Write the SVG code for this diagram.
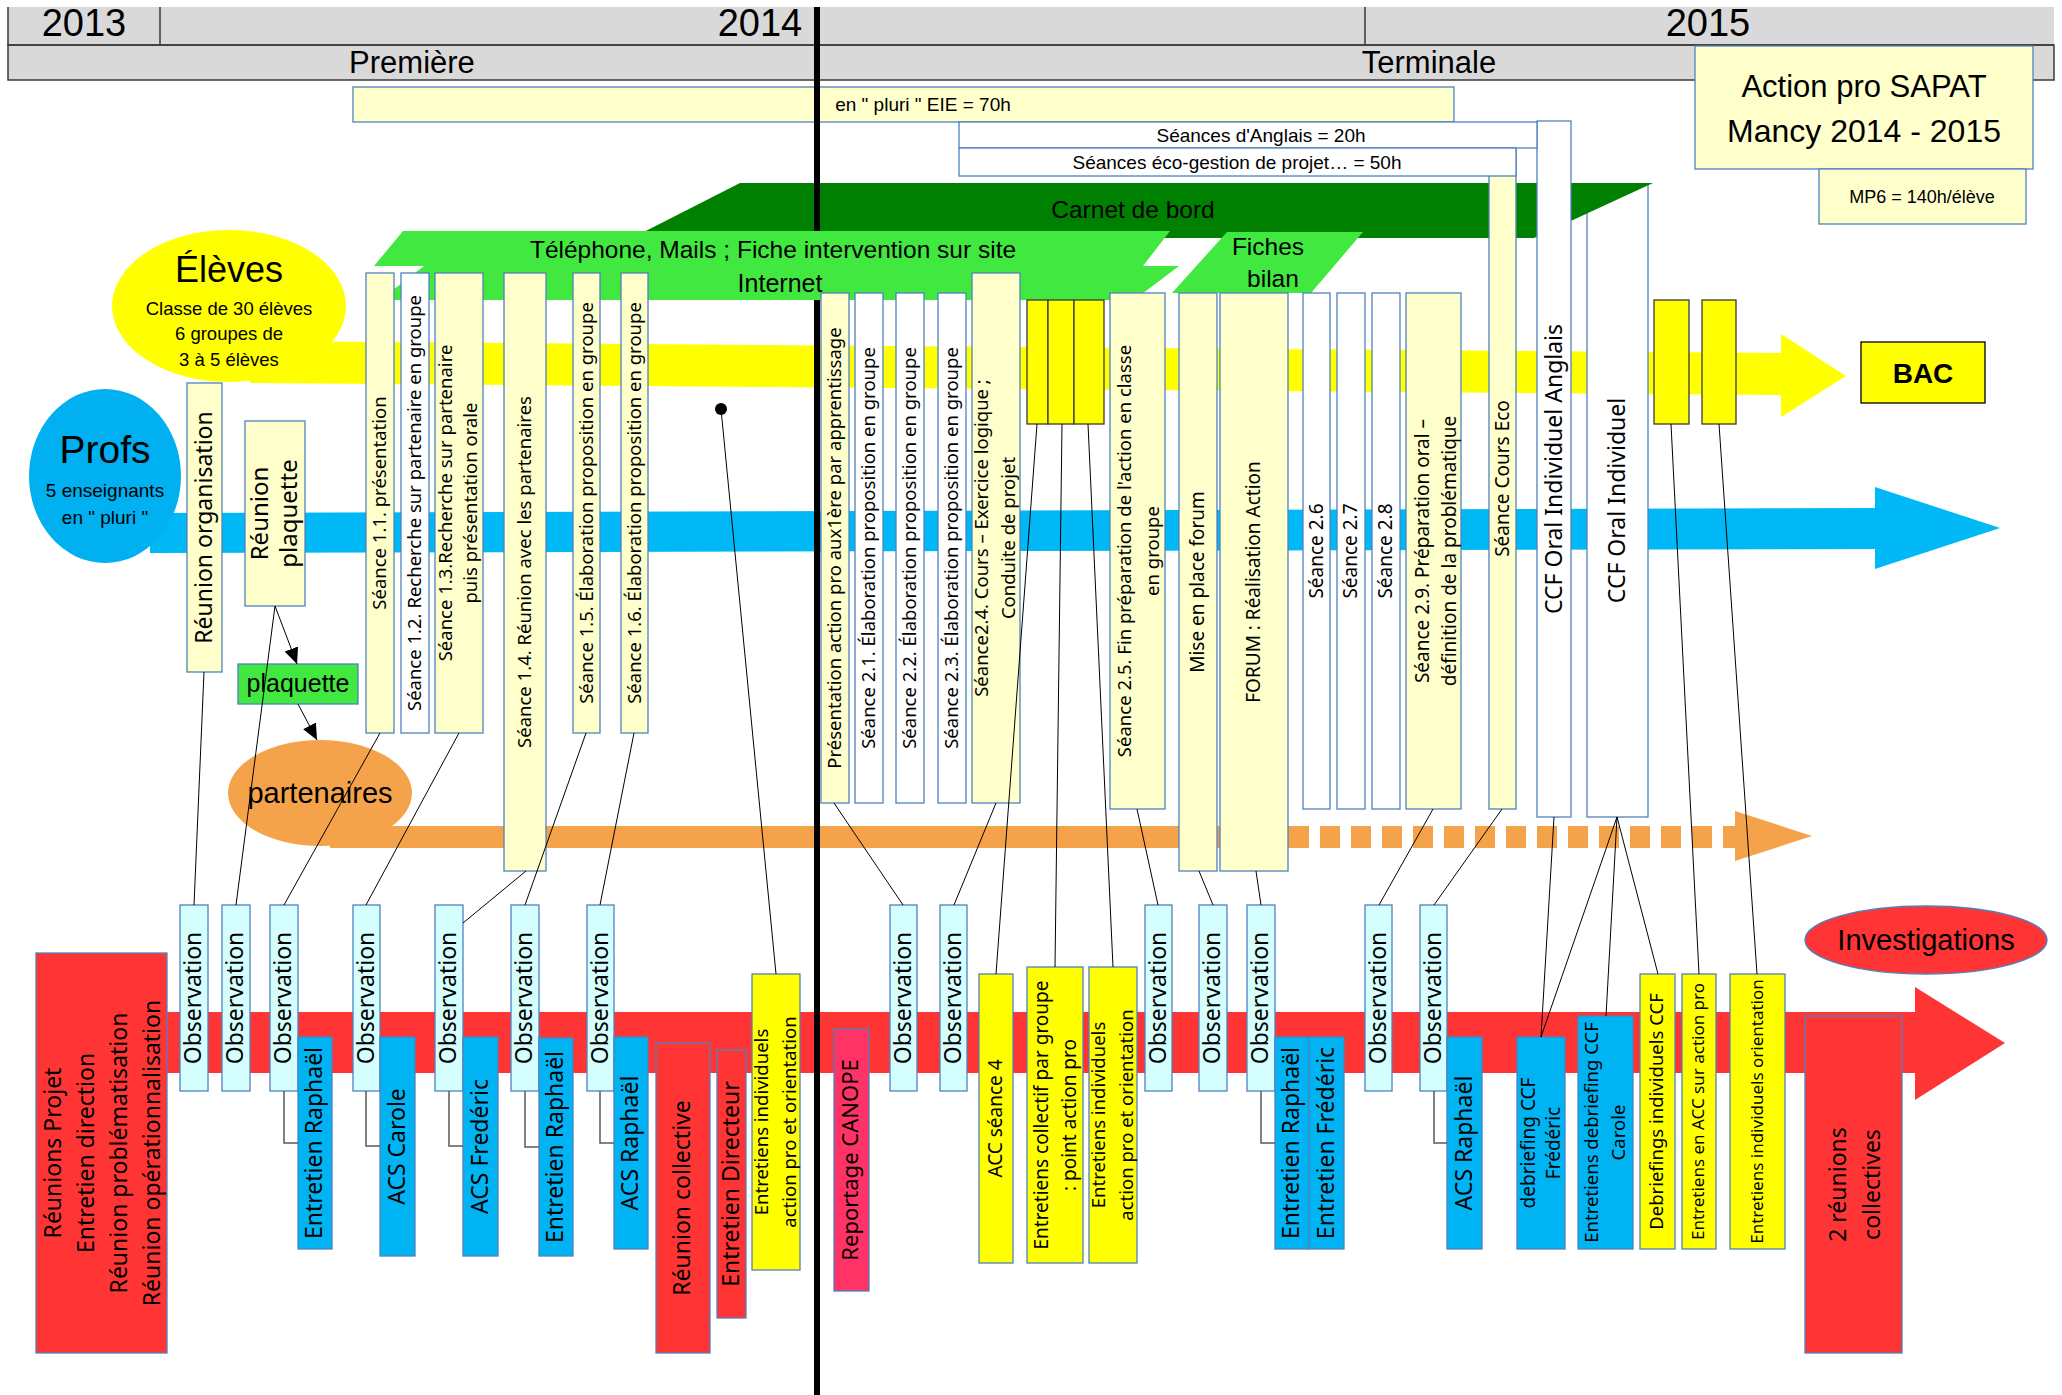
<svg xmlns="http://www.w3.org/2000/svg" width="2062" height="1395" viewBox="0 0 2062 1395">
<defs>
<style>
.ly{fill:#ffffcc;stroke:#4f81bd;stroke-width:1.3}
.wh{fill:#ffffff;stroke:#4f81bd;stroke-width:1.3}
.ob{fill:#d5fefe;stroke:#4f81bd;stroke-width:1.3}
.bl{fill:#00b4f3;stroke:#4f81bd;stroke-width:1.3}
.yl{fill:#ffff00;stroke:#4f81bd;stroke-width:1.3}
.yk{fill:#ffff00;stroke:#3a3a3a;stroke-width:1.3}
.rd{fill:#ff3535;stroke:#4f81bd;stroke-width:1.3}
.gr{fill:#40e840}
text{fill:#000}
.v{font-family:"Noto Sans","DejaVu Sans",sans-serif;text-anchor:middle}
.h{font-family:"Liberation Sans",Arial,sans-serif;text-anchor:middle}
.c{stroke:#000;stroke-width:1;fill:none}
.e{stroke:#595959;stroke-width:1.5;fill:none}
</style>
<marker id="ah" viewBox="0 0 10 10" refX="10" refY="5" markerWidth="16" markerHeight="16" markerUnits="userSpaceOnUse" orient="auto"><path d="M0,0.5 L10,5 L0,9.5 z" fill="#000"/></marker>
</defs>
<rect width="2062" height="1395" fill="#ffffff"/>

<g id="header">
<rect x="8" y="7" width="2046" height="38" fill="#d9d9d9"/>
<rect x="8" y="45" width="2046" height="35" fill="#d9d9d9" stroke="#3a3a3a" stroke-width="1.5"/>
<path d="M8 7 V45 H2054 M160 7 V45 M1365 7 V45" stroke="#3a3a3a" stroke-width="1.5" fill="none"/>
<text class="h" x="84" y="36" font-size="38">2013</text>
<text class="h" x="760" y="36" font-size="38">2014</text>
<text class="h" x="1708" y="36" font-size="38">2015</text>
<text class="h" x="412" y="73" font-size="31">Première</text>
<text class="h" x="1429" y="73" font-size="31">Terminale</text>
</g>

<g id="title">
<rect x="1695" y="46" width="338" height="123" class="ly"/>
<text class="h" x="1864" y="97" font-size="31">Action pro SAPAT</text>
<text class="h" x="1864" y="142" font-size="32">Mancy 2014 - 2015</text>
</g>
<g id="mp6">
<rect x="1819" y="169" width="207" height="55" class="ly"/>
<text class="h" x="1922" y="203" font-size="18">MP6 = 140h/élève</text>
</g>

<g id="pluri">
<rect x="353" y="87" width="1101" height="35" class="ly"/>
<text class="h" x="923" y="111" font-size="19">en " pluri " EIE = 70h</text>
</g>

<g id="bands">
<polygon points="250,341 1781,353 1781,334 1846,376 1781,417 1781,395 250,383" fill="#ffff00"/>
<polygon points="150,513 1875,508 1875,487 2000,528 1875,569 1875,549 150,553" fill="#00b8f6"/>
<rect x="330" y="826" width="960" height="22" fill="#f4a34b"/>
<line x1="1289" y1="837" x2="1735" y2="837" stroke="#f4a34b" stroke-width="22" stroke-dasharray="20 11"/>
<polygon points="1735,811 1812,836 1735,861" fill="#f4a34b"/>
<polygon points="167,1012 1915,1012 1915,987 2005,1043 1915,1100 1915,1073 167,1073" fill="#ff3535"/>
</g>

<g id="eleves">
<ellipse cx="229" cy="306" rx="117" ry="76" fill="#ffff00"/>
<text class="h" x="229" y="282" font-size="36">Élèves</text>
<text class="h" x="229" y="315" font-size="18.5">Classe de 30 élèves</text>
<text class="h" x="229" y="340" font-size="18.5">6 groupes de</text>
<text class="h" x="229" y="366" font-size="18.5">3 à 5 élèves</text>
</g>
<g id="profs">
<ellipse cx="105" cy="476" rx="76" ry="87" fill="#00b0f0"/>
<text class="h" x="105" y="463" font-size="39">Profs</text>
<text class="h" x="105" y="497" font-size="19">5 enseignants</text>
<text class="h" x="105" y="524" font-size="19">en " pluri "</text>
</g>
<g id="partenaires">
<ellipse cx="320" cy="793" rx="92" ry="53" fill="#f4a34b"/>
<text class="h" x="320" y="803" font-size="29">partenaires</text>
</g>

<g id="ccf_oral">
<rect x="1587" y="184" width="61" height="633" class="wh"/>
<text class="v" font-size="23" transform="translate(1625,500.5) rotate(-90)">CCF Oral Individuel</text>
</g>

<g id="carnet">
<polygon points="740,183 1653,183 1534,238 632,238" fill="#008000"/>
<text class="h" x="1133" y="218" font-size="24.5">Carnet de bord</text>
</g>

<g id="cours_eco">
<rect x="1489" y="148" width="27" height="661" class="ly"/>
<text class="v" font-size="19" transform="translate(1509,478.5) rotate(-90)">Séance Cours Eco</text>
</g>
<g id="ccf_anglais">
<rect x="1537" y="121" width="34" height="696" class="wh"/>
<text class="v" font-size="23" transform="translate(1562,469) rotate(-90)">CCF Oral Individuel Anglais</text>
</g>
<g id="anglais">
<rect x="959" y="122" width="578" height="26" class="wh"/>
<text class="h" x="1261" y="141.5" font-size="19">Séances d'Anglais = 20h</text>
</g>
<g id="ecogestion">
<rect x="959" y="148" width="557" height="28" class="wh"/>
<text class="h" x="1237" y="168.5" font-size="19">Séances éco-gestion de projet… = 50h</text>
</g>

<line x1="817" y1="7" x2="817" y2="1395" stroke="#000" stroke-width="6"/>

<g id="telephone">
<polygon points="403,231 1170,231 1143,266 374,266" class="gr"/>
<text class="h" x="773" y="258" font-size="24.5">Téléphone, Mails ; Fiche intervention sur site</text>
</g>
<g id="internet">
<polygon points="424,266 1179,266 1134,300 380,300" class="gr"/>
<text class="h" x="780" y="292" font-size="25">Internet</text>
</g>
<g id="fiches_bilan">
<polygon points="1227,232 1363,232 1311,293 1172,293" class="gr"/>
<text class="h" x="1268" y="255" font-size="24.5">Fiches</text>
<text class="h" x="1273" y="287" font-size="24.5">bilan</text>
</g>

<g id="reunion_org"><rect x="187" y="383" width="35" height="289" class="ly"/>
<text class="v" font-size="23" transform="translate(212,527.5) rotate(-90)">Réunion organisation</text></g>
<g id="reunion_plaq"><rect x="245" y="421" width="60" height="185" class="ly"/>
<text class="v" font-size="24" transform="translate(268,513.5) rotate(-90)"><tspan x="0" y="0">Réunion</tspan><tspan x="0" y="29">plaquette</tspan></text></g>
<g id="plaquette"><rect x="238" y="664" width="120" height="40" fill="#40e840" stroke="#4f81bd" stroke-width="1.3"/>
<text class="h" x="298" y="692" font-size="25">plaquette</text></g>

<g id="s11"><rect x="366" y="273" width="28" height="460" class="ly"/>
<text class="v" font-size="18.5" transform="translate(386,503) rotate(-90)">Séance 1.1. présentation</text></g>
<g id="s12"><rect x="401" y="273" width="28" height="460" class="wh"/>
<text class="v" font-size="18.5" transform="translate(421,503) rotate(-90)">Séance 1.2. Recherche sur partenaire en groupe</text></g>
<g id="s13"><rect x="435" y="273" width="48" height="460" class="ly"/>
<text class="v" font-size="18.5" transform="translate(452,503) rotate(-90)"><tspan x="0" y="0">Séance 1.3.Recherche sur partenaire</tspan><tspan x="0" y="25">puis présentation orale</tspan></text></g>
<g id="s14"><rect x="504" y="273" width="42" height="598" class="ly"/>
<text class="v" font-size="18.5" transform="translate(531,572) rotate(-90)">Séance 1.4. Réunion avec les partenaires</text></g>
<g id="s15"><rect x="573" y="273" width="27" height="460" class="ly"/>
<text class="v" font-size="18.5" transform="translate(592.5,503) rotate(-90)">Séance 1.5. Élaboration proposition en groupe</text></g>
<g id="s16"><rect x="621" y="273" width="27" height="460" class="ly"/>
<text class="v" font-size="18.5" transform="translate(640.5,503) rotate(-90)">Séance 1.6. Élaboration proposition en groupe</text></g>

<g id="presentation"><rect x="821" y="293" width="28" height="510" class="ly"/>
<text class="v" font-size="18.5" transform="translate(841,548) rotate(-90)">Présentation action pro aux1ère par apprentissage</text></g>
<g id="s21"><rect x="855" y="293" width="28" height="510" class="wh"/>
<text class="v" font-size="18.5" transform="translate(875,548) rotate(-90)">Séance 2.1. Élaboration proposition en groupe</text></g>
<g id="s22"><rect x="896" y="293" width="28" height="510" class="wh"/>
<text class="v" font-size="18.5" transform="translate(916,548) rotate(-90)">Séance 2.2. Élaboration proposition en groupe</text></g>
<g id="s23"><rect x="938" y="293" width="28" height="510" class="wh"/>
<text class="v" font-size="18.5" transform="translate(958,548) rotate(-90)">Séance 2.3. Élaboration proposition en groupe</text></g>
<g id="s24"><rect x="972" y="273" width="48" height="530" class="ly"/>
<text class="v" font-size="18.5" transform="translate(988,538) rotate(-90)"><tspan x="0" y="0">Séance2.4. Cours – Exercice logique ;</tspan><tspan x="0" y="27">Conduite de projet</tspan></text></g>
<g id="y1"><rect x="1027" y="300" width="21" height="124" class="yk"/></g>
<g id="y2"><rect x="1048" y="300" width="26" height="124" class="yk"/></g>
<g id="y3"><rect x="1074" y="300" width="30" height="124" class="yk"/></g>
<g id="s25"><rect x="1110" y="293" width="55" height="516" class="ly"/>
<text class="v" font-size="18.5" transform="translate(1131,551) rotate(-90)"><tspan x="0" y="0">Séance 2.5. Fin préparation de l'action en classe</tspan><tspan x="0" y="28">en groupe</tspan></text></g>
<g id="mise_forum"><rect x="1179" y="293" width="38" height="578" class="ly"/>
<text class="v" font-size="19" transform="translate(1204,582) rotate(-90)">Mise en place forum</text></g>
<g id="forum"><rect x="1220" y="293" width="68" height="578" class="ly"/>
<text class="v" font-size="19" transform="translate(1260,582) rotate(-90)">FORUM : Réalisation Action</text></g>
<g id="s26"><rect x="1303" y="293" width="27" height="516" class="wh"/>
<text class="v" font-size="19" transform="translate(1323,551) rotate(-90)">Séance 2.6</text></g>
<g id="s27"><rect x="1337" y="293" width="28" height="516" class="wh"/>
<text class="v" font-size="19" transform="translate(1357,551) rotate(-90)">Séance 2.7</text></g>
<g id="s28"><rect x="1372" y="293" width="28" height="516" class="wh"/>
<text class="v" font-size="19" transform="translate(1392,551) rotate(-90)">Séance 2.8</text></g>
<g id="s29"><rect x="1406" y="293" width="55" height="516" class="ly"/>
<text class="v" font-size="19" transform="translate(1429,551) rotate(-90)"><tspan x="0" y="0">Séance 2.9. Préparation oral –</tspan><tspan x="0" y="27">définition de la problématique</tspan></text></g>
<g id="yA"><rect x="1654" y="300" width="35" height="124" class="yk"/></g>
<g id="yB"><rect x="1702" y="300" width="34" height="124" class="yk"/></g>
<g id="bac"><rect x="1861" y="342" width="124" height="61" fill="#ffff00" stroke="#000" stroke-width="1.3"/>
<text class="h" x="1923" y="383" font-size="28" font-weight="bold">BAC</text></g>

<g id="reunions_projet"><rect x="36" y="953" width="131" height="400" class="rd"/>
<text class="v" font-size="23" transform="translate(61,1153) rotate(-90)"><tspan x="0" y="0">Réunions Projet</tspan><tspan x="0" y="33">Entretien direction</tspan><tspan x="0" y="66">Réunion problématisation</tspan><tspan x="0" y="99">Réunion opérationnalisation</tspan></text></g>

<g id="obs1"><rect x="180" y="905" width="28" height="186" class="ob"/><text class="v" font-size="23" transform="translate(201,998) rotate(-90)">Observation</text></g>
<g id="obs2"><rect x="222" y="905" width="28" height="186" class="ob"/><text class="v" font-size="23" transform="translate(243,998) rotate(-90)">Observation</text></g>
<g id="obs3"><rect x="270" y="905" width="28" height="186" class="ob"/><text class="v" font-size="23" transform="translate(291,998) rotate(-90)">Observation</text></g>
<g id="obs4"><rect x="353" y="905" width="27" height="186" class="ob"/><text class="v" font-size="23" transform="translate(373.5,998) rotate(-90)">Observation</text></g>
<g id="obs5"><rect x="435" y="905" width="28" height="186" class="ob"/><text class="v" font-size="23" transform="translate(456,998) rotate(-90)">Observation</text></g>
<g id="obs6"><rect x="511" y="905" width="28" height="186" class="ob"/><text class="v" font-size="23" transform="translate(532,998) rotate(-90)">Observation</text></g>
<g id="obs7"><rect x="587" y="905" width="27" height="186" class="ob"/><text class="v" font-size="23" transform="translate(607.5,998) rotate(-90)">Observation</text></g>
<g id="obs8"><rect x="890" y="905" width="27" height="186" class="ob"/><text class="v" font-size="23" transform="translate(910.5,998) rotate(-90)">Observation</text></g>
<g id="obs9"><rect x="940" y="905" width="27" height="186" class="ob"/><text class="v" font-size="23" transform="translate(960.5,998) rotate(-90)">Observation</text></g>
<g id="obs10"><rect x="1145" y="905" width="27" height="186" class="ob"/><text class="v" font-size="23" transform="translate(1165.5,998) rotate(-90)">Observation</text></g>
<g id="obs11"><rect x="1199" y="905" width="28" height="186" class="ob"/><text class="v" font-size="23" transform="translate(1220,998) rotate(-90)">Observation</text></g>
<g id="obs12"><rect x="1247" y="905" width="28" height="186" class="ob"/><text class="v" font-size="23" transform="translate(1268,998) rotate(-90)">Observation</text></g>
<g id="obs13"><rect x="1365" y="905" width="27" height="186" class="ob"/><text class="v" font-size="23" transform="translate(1385.5,998) rotate(-90)">Observation</text></g>
<g id="obs14"><rect x="1420" y="905" width="27" height="186" class="ob"/><text class="v" font-size="23" transform="translate(1440.5,998) rotate(-90)">Observation</text></g>

<g id="ent_raph1"><rect x="298" y="1037" width="34" height="212" class="bl"/><text class="v" font-size="23" transform="translate(322,1143) rotate(-90)">Entretien Raphaël</text></g>
<g id="acs_carole"><rect x="380" y="1037" width="35" height="219" class="bl"/><text class="v" font-size="23" transform="translate(404.5,1146.5) rotate(-90)">ACS Carole</text></g>
<g id="acs_fred"><rect x="463" y="1037" width="35" height="219" class="bl"/><text class="v" font-size="23" transform="translate(487.5,1146.5) rotate(-90)">ACS Fredéric</text></g>
<g id="ent_raph2"><rect x="539" y="1038" width="34" height="218" class="bl"/><text class="v" font-size="23" transform="translate(563,1147) rotate(-90)">Entretien Raphaël</text></g>
<g id="acs_raph1"><rect x="614" y="1037" width="34" height="212" class="bl"/><text class="v" font-size="23" transform="translate(638,1143) rotate(-90)">ACS Raphaël</text></g>

<g id="reunion_coll"><rect x="656" y="1043" width="54" height="310" class="rd"/><text class="v" font-size="23" transform="translate(690,1198) rotate(-90)">Réunion collective</text></g>
<g id="ent_dir"><rect x="717" y="1050" width="29" height="268" class="rd"/><text class="v" font-size="23" transform="translate(738.5,1184) rotate(-90)">Entretien Directeur</text></g>
<g id="ent_ind1"><rect x="752" y="974" width="48" height="296" class="yl"/><text class="v" font-size="18.5" transform="translate(768,1122) rotate(-90)"><tspan x="0" y="0">Entretiens individuels</tspan><tspan x="0" y="28">action pro et orientation</tspan></text></g>
<g id="reportage"><rect x="834" y="1029" width="35" height="262" fill="#ff3366" stroke="#4f81bd" stroke-width="1.3"/><text class="v" font-size="22" transform="translate(858,1160) rotate(-90)">Reportage CANOPE</text></g>
<g id="acc4"><rect x="979" y="974" width="34" height="289" class="yl"/><text class="v" font-size="19" transform="translate(1002,1118.5) rotate(-90)">ACC séance 4</text></g>
<g id="ent_coll"><rect x="1027" y="967" width="56" height="296" class="yl"/><text class="v" font-size="19" transform="translate(1048,1115) rotate(-90)"><tspan x="0" y="0">Entretiens collectif par groupe</tspan><tspan x="0" y="28">: point action pro</tspan></text></g>
<g id="ent_ind2"><rect x="1089" y="967" width="48" height="296" class="yl"/><text class="v" font-size="18.5" transform="translate(1105,1115) rotate(-90)"><tspan x="0" y="0">Entretiens individuels</tspan><tspan x="0" y="28">action pro et orientation</tspan></text></g>
<g id="ent_raph3"><rect x="1275" y="1037" width="34" height="212" class="bl"/><text class="v" font-size="23" transform="translate(1299,1143) rotate(-90)">Entretien Raphaël</text></g>
<g id="ent_fred"><rect x="1309" y="1037" width="35" height="212" class="bl"/><text class="v" font-size="23" transform="translate(1333.5,1143) rotate(-90)">Entretien Frédéric</text></g>
<g id="acs_raph2"><rect x="1447" y="1037" width="35" height="212" class="bl"/><text class="v" font-size="23" transform="translate(1471.5,1143) rotate(-90)">ACS Raphaël</text></g>
<g id="debrief_fred"><rect x="1517" y="1037" width="48" height="212" class="bl"/><text class="v" font-size="19" transform="translate(1535,1143) rotate(-90)"><tspan x="0" y="0">debriefing CCF</tspan><tspan x="0" y="25">Frédéric</tspan></text></g>
<g id="debrief_carole"><rect x="1578" y="1016" width="55" height="233" class="bl"/><text class="v" font-size="18.5" transform="translate(1598,1132.5) rotate(-90)"><tspan x="0" y="0">Entretiens debriefing CCF</tspan><tspan x="0" y="27">Carole</tspan></text></g>
<g id="debrief_ind"><rect x="1640" y="974" width="35" height="275" class="yl"/><text class="v" font-size="18.5" transform="translate(1663,1111.5) rotate(-90)">Debriefings individuels CCF</text></g>
<g id="ent_acc"><rect x="1682" y="974" width="34" height="275" class="yl"/><text class="v" font-size="17" transform="translate(1704,1111.5) rotate(-90)">Entretiens en ACC sur action pro</text></g>
<g id="ent_ind_or"><rect x="1730" y="974" width="55" height="275" class="yl"/><text class="v" font-size="17" transform="translate(1763,1111.5) rotate(-90)">Entretiens individuels orientation</text></g>
<g id="reunions2"><rect x="1805" y="1016" width="97" height="337" class="rd"/><text class="v" font-size="23" transform="translate(1846,1184.5) rotate(-90)"><tspan x="0" y="0">2 réunions</tspan><tspan x="0" y="33.5">collectives</tspan></text></g>
<g id="investigations"><ellipse cx="1926" cy="940" rx="121" ry="34" fill="#ff3535" stroke="#4f81bd" stroke-width="1.3"/>
<text class="h" x="1926" y="950" font-size="29">Investigations</text></g>

<g id="connectors">
<line class="c" x1="275" y1="606" x2="297" y2="664" marker-end="url(#ah)"/>
<line class="c" x1="298" y1="704" x2="317" y2="740" marker-end="url(#ah)"/>
<line class="c" x1="204" y1="672" x2="194" y2="905"/>
<line class="c" x1="275" y1="606" x2="236" y2="905"/>
<line class="c" x1="380" y1="733" x2="284" y2="905"/>
<line class="c" x1="459" y1="733" x2="366" y2="905"/>
<line class="c" x1="526" y1="871" x2="463" y2="923"/>
<line class="c" x1="586" y1="733" x2="525" y2="905"/>
<line class="c" x1="634" y1="733" x2="600" y2="905"/>
<circle cx="721" cy="409" r="6" fill="#000"/>
<line class="c" x1="721" y1="409" x2="776" y2="974"/>
<line class="c" x1="834" y1="803" x2="903" y2="905"/>
<line class="c" x1="996" y1="803" x2="954" y2="905"/>
<line class="c" x1="1037" y1="424" x2="996" y2="974"/>
<line class="c" x1="1062" y1="424" x2="1055" y2="967"/>
<line class="c" x1="1088" y1="424" x2="1113" y2="967"/>
<line class="c" x1="1137" y1="809" x2="1158" y2="905"/>
<line class="c" x1="1199" y1="871" x2="1213" y2="905"/>
<line class="c" x1="1256" y1="871" x2="1261" y2="905"/>
<line class="c" x1="1433" y1="809" x2="1379" y2="905"/>
<line class="c" x1="1502" y1="809" x2="1434" y2="905"/>
<line class="c" x1="1554" y1="817" x2="1541" y2="1037"/>
<line class="c" x1="1617" y1="817" x2="1541" y2="1037"/>
<line class="c" x1="1617" y1="817" x2="1606" y2="1016"/>
<line class="c" x1="1617" y1="817" x2="1658" y2="974"/>
<line class="c" x1="1671" y1="424" x2="1699" y2="974"/>
<line class="c" x1="1719" y1="424" x2="1757" y2="974"/>
<path class="e" d="M284 1091 V1143 H298"/>
<path class="e" d="M366 1091 V1146 H380"/>
<path class="e" d="M449 1091 V1146 H463"/>
<path class="e" d="M525 1091 V1147 H539"/>
<path class="e" d="M600 1091 V1143 H614"/>
<path class="e" d="M1261 1091 V1143 H1275"/>
<path class="e" d="M1434 1091 V1143 H1447"/>
</g>
</svg>
